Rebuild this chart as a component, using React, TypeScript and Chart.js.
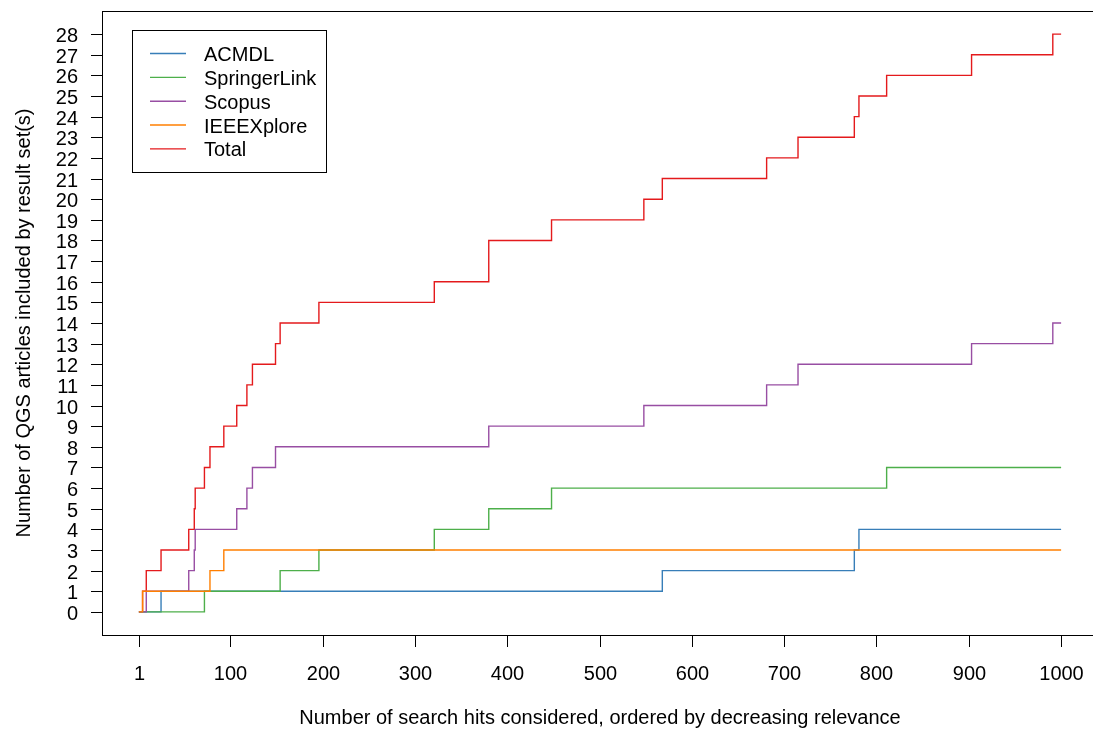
import React, { useEffect, useRef } from "react";
import { Chart, registerables } from "chart.js";

Chart.register(...registerables);

// ---- Data ----
const seriesNames = ["ACMDL", "SpringerLink", "Scopus", "IEEEXplore", "Total"];
const seriesColors = ["#377EB8", "#4DAF4A", "#984EA3", "#FF7F00", "#E41A1C"];
const drawOrder = [3, 2, 1, 0, 4]; // lower = drawn on top

const acmdlX = [1, 25, 568, 776, 781, 1000];
const acmdlY = [0, 1, 2, 3, 4, 4];

const springerX = [1, 72, 154, 196, 321, 380, 448, 811, 1000];
const springerY = [0, 1, 2, 3, 4, 5, 6, 7, 7];

const scopusX = [1, 9, 55, 61, 62, 107, 118, 124, 149, 380, 548, 681, 715, 903, 991, 1000];
const scopusY = [0, 1, 2, 3, 4, 5, 6, 7, 8, 9, 10, 11, 12, 13, 14, 14];

const ieeeX = [1, 5, 78, 93, 1000];
const ieeeY = [0, 1, 2, 3, 3];

const totalX = [1, 5, 9, 25, 55, 61, 62, 72, 78, 93, 107, 118, 124, 149, 154, 196, 321, 380, 448, 548, 568, 681, 715, 776, 781, 811, 903, 991, 1000];
const totalY = [0, 1, 2, 3, 4, 5, 6, 7, 8, 9, 10, 11, 12, 13, 14, 15, 16, 18, 19, 20, 21, 22, 23, 24, 25, 26, 27, 28, 28];

const xTicks = [1, 100, 200, 300, 400, 500, 600, 700, 800, 900, 1000];
const yTicks = [0, 1, 2, 3, 4, 5, 6, 7, 8, 9, 10, 11, 12, 13, 14, 15, 16, 17, 18, 19, 20, 21, 22, 23, 24, 25, 26, 27, 28];

const xTitle = "Number of search hits considered, ordered by decreasing relevance";
const yTitle = "Number of QGS articles included by result set(s)";

const seriesX = [acmdlX, springerX, scopusX, ieeeX, totalX];
const seriesY = [acmdlY, springerY, scopusY, ieeeY, totalY];

const FONT = '20px "Liberation Sans", Arial, Helvetica, sans-serif';
const LINE_W = 1.4;

const rAxesPlugin = {
  id: "rAxes",
  afterDraw(chart: any) {
    const ctx = chart.ctx;
    const a = chart.chartArea;
    const xs = chart.scales.x;
    const ys = chart.scales.y;
    ctx.save();
    ctx.strokeStyle = "#000";
    ctx.fillStyle = "#000";
    ctx.lineWidth = 1;
    // frame
    ctx.strokeRect(Math.round(a.left) + 0.5, Math.round(a.top) + 0.5, Math.round(a.right - a.left), Math.round(a.bottom - a.top));
    ctx.font = FONT;
    // x ticks
    ctx.textAlign = "center";
    ctx.textBaseline = "alphabetic";
    for (const v of xTicks) {
      const px = Math.round(xs.getPixelForValue(v)) + 0.5;
      ctx.beginPath();
      ctx.moveTo(px, Math.round(a.bottom));
      ctx.lineTo(px, Math.round(a.bottom) + 12);
      ctx.stroke();
      ctx.fillText(String(v), px, a.bottom + 45);
    }
    // y ticks
    ctx.textAlign = "right";
    for (const v of yTicks) {
      const py = Math.round(ys.getPixelForValue(v)) + 0.5;
      ctx.beginPath();
      ctx.moveTo(Math.round(a.left), py);
      ctx.lineTo(Math.round(a.left) - 11, py);
      ctx.stroke();
      ctx.fillText(String(v), a.left - 24, py + 7);
    }
    // titles
    ctx.textAlign = "center";
    ctx.fillText(xTitle, (a.left + a.right) / 2, a.bottom + 89);
    ctx.save();
    ctx.translate(30, (a.top + a.bottom) / 2);
    ctx.rotate(-Math.PI / 2);
    ctx.fillText(yTitle, 0, 0);
    ctx.restore();
    // legend
    const lx = a.left + 30;
    const ly = a.top + 19;
    ctx.strokeRect(Math.round(lx) + 0.5, Math.round(ly) + 0.5, 194, 142);
    ctx.textAlign = "left";
    for (let i = 0; i < seriesNames.length; i++) {
      const ry = ly + 23.5 + i * 23.85;
      ctx.strokeStyle = seriesColors[i];
      ctx.lineWidth = LINE_W;
      ctx.beginPath();
      ctx.moveTo(lx + 18, ry);
      ctx.lineTo(lx + 54, ry);
      ctx.stroke();
      ctx.fillStyle = "#000";
      ctx.fillText(seriesNames[i], lx + 72, ry + 7.5);
    }
    ctx.restore();
  },
};

export default function App() {
  const ref = useRef<HTMLCanvasElement | null>(null);
  useEffect(() => {
    if (!ref.current) return;
    const xMin = Math.min(...totalX), xMax = Math.max(...totalX);
    const yMin = 0, yMax = Math.max(...totalY);
    const xPad = 0.04 * (xMax - xMin);
    const yPad = 0.04 * (yMax - yMin);
    const chart = new Chart(ref.current, {
      type: "line",
      data: {
        datasets: seriesNames.map((name, i) => ({
          label: name,
          data: seriesX[i].map((x, k) => ({ x, y: seriesY[i][k] })),
          borderColor: seriesColors[i],
          backgroundColor: seriesColors[i],
          borderWidth: LINE_W,
          pointRadius: 0,
          stepped: "before" as const,
          fill: false,
          order: drawOrder[i],
        })),
      },
      options: {
        responsive: false,
        animation: false,
        devicePixelRatio: 1,
        layout: { padding: { left: 102, top: 11, right: 12, bottom: 96 } },
        scales: {
          x: { type: "linear", display: false, min: xMin - xPad, max: xMax + xPad },
          y: { type: "linear", display: false, min: yMin - yPad, max: yMax + yPad },
        },
        plugins: { legend: { display: false }, tooltip: { enabled: false } },
      },
      plugins: [rAxesPlugin],
    });
    return () => chart.destroy();
  }, []);
  return (
    <div style={{ position: "fixed", left: 0, top: 0, width: 1093, height: 731, overflow: "hidden", background: "#fff" }}>
      <canvas ref={ref} width={1110} height={731} style={{ display: "block" }} />
    </div>
  );
}
